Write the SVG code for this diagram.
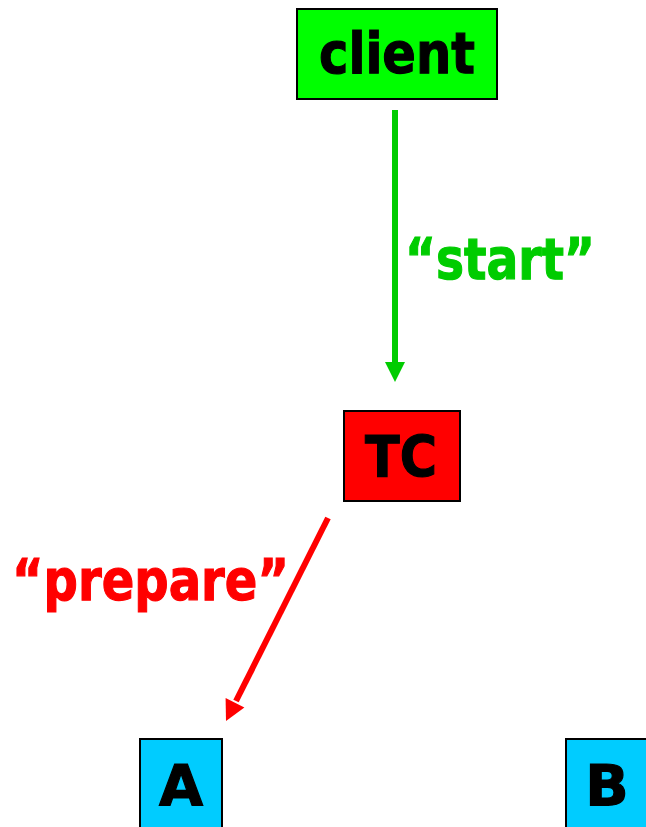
<svg xmlns="http://www.w3.org/2000/svg" width="646" height="827" viewBox="0 0 646 827">
<style>
.box{stroke:#000;stroke-width:2}
.lbl{font-family:"DejaVu Sans","Verdana",sans-serif;font-weight:bold;font-size:57px;text-anchor:middle;fill:#000;stroke:#000;stroke-width:1.2}
.edge{font-family:"DejaVu Sans","Verdana",sans-serif;font-weight:bold;font-size:57px;stroke-width:1.2}
</style>
<rect width="646" height="827" fill="#fff"/>
<g id="client">
<rect class="box" x="297" y="9" width="200" height="90" fill="#00FF00"/>
<text class="lbl" x="397" y="73" textLength="156" lengthAdjust="spacingAndGlyphs">client</text>
</g>
<g id="TC">
<rect class="box" x="344" y="411" width="116" height="90" fill="#FF0000"/>
<text class="lbl" x="401" y="477" textLength="72" lengthAdjust="spacingAndGlyphs">TC</text>
</g>
<g id="A">
<rect class="box" x="140" y="739" width="82" height="100" fill="#00CCFF"/>
<text class="lbl" x="181" y="806">A</text>
</g>
<g id="B">
<rect class="box" x="566" y="739" width="90" height="100" fill="#00CCFF"/>
<text class="lbl" x="607" y="806">B</text>
</g>
<g id="connectors">
<line x1="395" y1="110" x2="395" y2="364" stroke="#00CC00" stroke-width="6"/>
<path d="M385,362 L405,362 L395,382 Z" fill="#00CC00"/>
<line x1="328" y1="518" x2="236" y2="701" stroke="#FF0000" stroke-width="6"/>
<path d="M225.6,698 L244.4,707.4 L226,721 Z" fill="#FF0000"/>
<text class="edge" x="405" y="279" fill="#00CC00" stroke="#00CC00" textLength="190" lengthAdjust="spacingAndGlyphs">“start”</text>
<text class="edge" x="12" y="600" fill="#FF0000" stroke="#FF0000" textLength="277" lengthAdjust="spacingAndGlyphs">“prepare”</text>
</g>
</svg>
